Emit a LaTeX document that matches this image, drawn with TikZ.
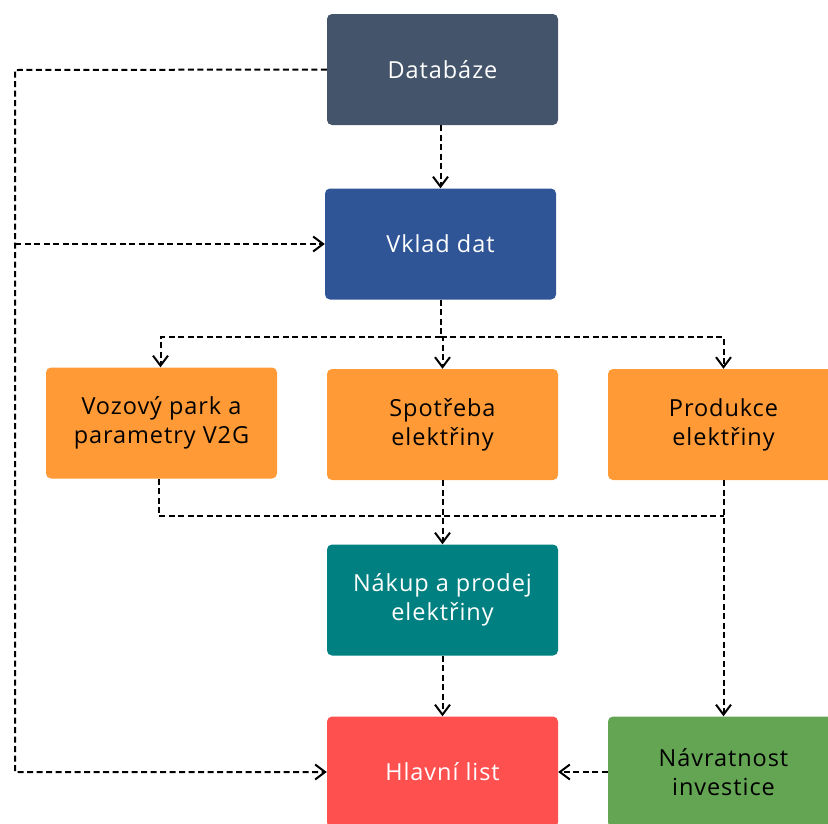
\documentclass[tikz,border=0pt]{standalone}
\usepackage{fontspec}
\setmainfont[LetterSpace=4]{Open Sans}
\usetikzlibrary{arrows.meta}
\definecolor{cdb}{HTML}{44546A}
\definecolor{cvk}{HTML}{2F5597}
\definecolor{cor}{HTML}{FF9A36}
\definecolor{cnk}{HTML}{008080}
\definecolor{chl}{HTML}{FF5050}
\definecolor{cnv}{HTML}{63A553}
\begin{document}
\begin{tikzpicture}[x=1pt,y=-1pt,
  box/.style={rounded corners=5pt, minimum width=231pt, minimum height=111pt,
    align=center, font=\fontsize{23.5}{29}\selectfont, inner sep=0pt},
  dline/.style={dash pattern=on 6pt off 3.5pt, line width=2pt},
  conn/.style={dline, -{Straight Barb[length=10pt,width=15pt]}}]
\useasboundingbox (0,0) rectangle (828,823);
\node[box, fill=cdb, text=white] (db) at (442.5,69.5) {Databáze};
\node[box, fill=cvk, text=white] (vk) at (440.5,244) {Vklad dat};
\node[box, fill=cor] (vp) at (161.5,423) {Vozový park a\\parametry V2G};
\node[box, fill=cor] (sp) at (442.5,424.5) {Spotřeba\\elektřiny};
\node[box, fill=cor] (pr) at (723.5,424.5) {Produkce\\elektřiny};
\node[box, fill=cnk, text=white] (nk) at (442.5,600) {Nákup a prodej\\elektřiny};
\node[box, fill=chl, text=white] (hl) at (442.5,772) {Hlavní list};
\node[box, fill=cnv] (nv) at (723.5,772) {Návratnost\\investice};
\coordinate (lt) at (15,70);
\coordinate (bj) at (440.5,337);
\coordinate (mj) at (442.5,516);
% left feedback line
\draw[conn] (db.west) -- (lt) -- (lt |- hl.west) -- (hl.west);
\draw[conn] (lt |- vk.west) -- (vk.west);
% database to input
\draw[conn] (vk.north |- db.south) -- (vk.north);
% distribution
\draw[dline] (vk.south) -- (bj);
\draw[conn] (bj) -| ([xshift=-1pt]vp.north);
\draw[conn] (bj) -| (pr.north);
\draw[conn] (bj) -- (bj -| sp.north) -- (sp.north);
% merge
\draw[dline] ([xshift=-3pt]vp.south) |- (pr.south |- mj);
\draw[conn] (sp.south) -- (nk.north);
\draw[conn] (pr.south) -- (nv.north);
\draw[conn] (nk.south) -- (hl.north);
\draw[conn] (nv.west) -- (hl.east);
\end{tikzpicture}
\end{document}
